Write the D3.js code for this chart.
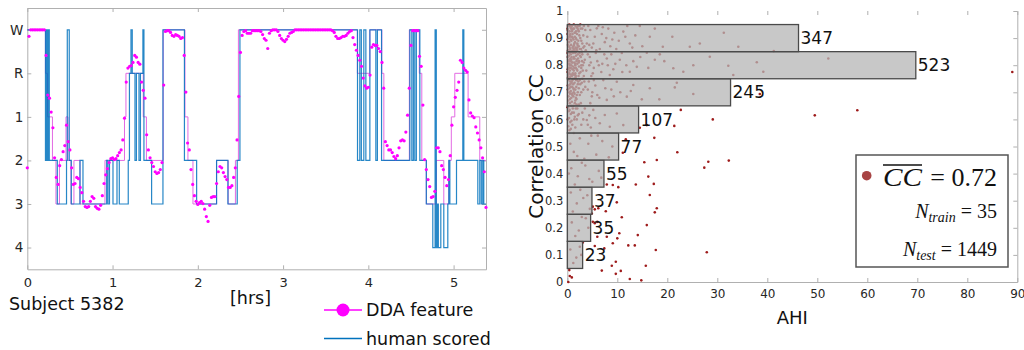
<!DOCTYPE html>
<html>
<head>
<meta charset="utf-8">
<script src="https://cdn.jsdelivr.net/npm/d3@7"></script>
<style>
  body { margin: 0; background: #fff; }
  svg { display: block; }
</style>
</head>
<body>
<svg id="chart" width="1024" height="350"></svg>
<script>
// ---- left panel: hypnogram vs DDA feature ----
const stageNames = ["W", "R", "1", "2", "3", "4"];
const hourTicks = [0, 1, 2, 3, 4, 5];
const recordEnd = 5.38; // hrs
const ddaStep = 0.02;   // hrs between DDA samples

// DDA feature, one value per sample (stage depth, W = 0)
const ddaValues = [
  3.17, 0.15, 0, 0, 0, 0, 0, 0, 0, 0,
  0, 0.59, 1.5, 1.57, 1.89, 2.25, 2.94, 3.39, 3.55, 3.12,
  2.98, 2.8, 2.66, 2.19, 2.57, 2.76, 3.17, 3.55, 3.53, 3.39,
  3.42, 3.62, 3.74, 3.94, 4.06, 4.08, 4.06, 3.94, 3.83, 3.87,
  4.06, 4.1, 4.12, 4.03, 3.81, 3.53, 3.33, 3.19, 3.05, 2.96,
  2.94, 2.98, 2.96, 2.89, 2.82, 2.76, 2.53, 2.03, 1.2, 0.88,
  0.84, 0.82, 0.75, 0.59, 0.63, 0.75, 0.79, 1.2, 1.39, 1.57,
  2.41, 2.76, 2.94, 3.05, 3.14, 3.26, 3.3, 3.28, 3.21, 3.05,
  1.27, 0.04, 0.02, 0.02, 0.06, 0.13, 0.15, 0.11, 0.13, 0.15,
  0.2, 0.18, 0.59, 1.43, 2.6, 2.76, 3.21, 3.55, 3.81, 3.94,
  4.01, 3.97, 3.94, 3.99, 4.12, 4.29, 4.4, 4.03, 3.85, 3.83,
  3.83, 3.53, 3.26, 3.14, 3.17, 3.28, 3.37, 3.44, 3.62, 3.62,
  3.58, 3.39, 3.17, 2.53, 1.53, 0.52, 0.13, 0.04, 0.02, 0.08,
  0.08, 0.08, 0.02, 0.02, 0.02, 0.02, 0.02, 0.04, 0.11, 0.2,
  0.24, 0.43, 0.08, 0.02, 0, 0, 0, 0.04, 0.13, 0.2,
  0.24, 0.27, 0.22, 0.15, 0.08, 0.06, 0.04, 0, 0, 0,
  0, 0, 0, 0, 0, 0, 0, 0, 0, 0,
  0, 0, 0, 0, 0, 0, 0, 0, 0, 0.02,
  0.06, 0.15, 0.2, 0.2, 0.18, 0.15, 0.15, 0.13, 0.08, 0.04,
  0.02, 0.18, 0.34, 0.47, 0.59, 0.7, 0.84, 1.11, 1.29, 1.34,
  1.32, 1.04, 0.4, 0.34, 0.36, 0.36, 0.43, 0.5, 0.75, 1.34,
  2.57, 2.66, 2.76, 2.76, 2.82, 2.91, 2.96, 2.89, 2.71, 2.55,
  2.53, 2.55, 2.35, 1.96, 1.34, 0.36, 0.02, 0.02, 0.02, 0.02,
  0.61, 0.84, 1.73, 2.98, 3.21, 3.44, 3.6, 3.85, 3.83, 3.71,
  2.71, 2.71, 2.8, 3.12, 3.21, 3.39, 3.58, 3.44, 2.89, 2.19,
  1.77, 1.55, 1.39, 1.2, 0.7, 0.75, 0.88, 0.93, 0.97, 1.61,
  1.91, 1.98, 2.02, 2.23, 2.37, 2.53, 2.71, 2.94, 3.26, 4.08
];

// DDA feature rounded to stages: [start hr, stage]
const ddaLevel = [
  [0, 0], [0.213, 1], [0.237, 2], [0.295, 3], [0.336, 4], [0.377, 3], [0.454, 2],
  [0.477, 3], [0.512, 4], [0.547, 3], [0.618, 4], [0.911, 3], [1.14, 2], [1.157, 1],
  [1.36, 2], [1.397, 3], [1.594, 0], [1.849, 2], [1.884, 3], [1.943, 4], [2.22, 3],
  [2.356, 4], [2.441, 3], [2.476, 0], [3.871, 1], [4.018, 0], [4.158, 1], [4.182, 3],
  [4.481, 0], [4.598, 1], [4.627, 3], [4.68, 4], [4.797, 3], [4.885, 4], [4.944, 3],
  [4.973, 2], [5.014, 1], [5.17, 2], [5.307, 3]
];

// human scored hypnogram: [start hr, stage]
const humanScored = [
  [0, 0], [0.213, 3], [0.225, 0], [0.234, 3], [0.246, 0], [0.258, 3], [0.352, 4],
  [0.46, 3], [0.469, 0], [0.492, 3], [0.516, 4], [0.618, 3], [0.653, 4], [0.931, 3],
  [0.946, 4], [0.964, 3], [1.005, 4], [1.052, 3], [1.079, 4], [1.184, 3], [1.198, 1],
  [1.216, 0], [1.231, 1], [1.263, 3], [1.28, 1], [1.31, 3], [1.327, 1], [1.356, 0],
  [1.368, 3], [1.458, 4], [1.591, 0], [1.843, 3], [1.986, 4], [2.22, 3], [2.353, 4],
  [2.462, 3], [2.494, 0], [3.873, 3], [3.9, 0], [3.918, 3], [3.947, 0], [3.971, 3],
  [4.018, 0], [4.088, 3], [4.106, 0], [4.155, 3], [4.487, 0], [4.51, 3], [4.528, 0],
  [4.545, 3], [4.563, 0], [4.604, 3], [4.68, 4], [4.756, 5], [4.783, 0], [4.797, 5],
  [4.809, 4], [4.821, 5], [4.85, 4], [4.885, 5], [4.932, 4], [4.944, 3], [4.956, 4],
  [5.034, 3], [5.108, 0], [5.12, 3], [5.284, 4], [5.307, 3], [5.325, 4], [5.342, 3],
  [5.354, 4]
];

// ---- right panel: correlation vs AHI ----
const ccBins = [0.1, 0.2, 0.3, 0.4, 0.5, 0.6, 0.7, 0.8, 0.9];
const ccCounts = [23, 35, 37, 55, 77, 107, 245, 523, 347];
const binWidth = 0.1;
const ccTicks = [0, 0.1, 0.2, 0.3, 0.4, 0.5, 0.6, 0.7, 0.8, 0.9, 1];
const ahiTicks = [0, 10, 20, 30, 40, 50, 60, 70, 80, 90];
const ccMean = "0.72";
const nTrain = 35;
const nTest = 1449;

// subjects: [AHI, CC]
const subjects = [
  // dense low-AHI group
  [0.1,0.93],[0.4,0.95],[0.7,0.94],[1.0,0.93],[1.3,0.95],[1.6,0.92],[1.9,0.94],[2.2,0.93],[2.6,0.95],
  [0.2,0.90],[0.5,0.91],[0.8,0.89],[1.1,0.90],[1.4,0.88],[1.7,0.90],[2.0,0.88],[2.4,0.91],[2.8,0.89],
  [3.2,0.91],[3.6,0.93],[0.3,0.87],[0.6,0.86],[0.9,0.85],[1.2,0.87],[1.5,0.85],[1.8,0.86],[2.1,0.84],
  [2.5,0.86],[2.9,0.85],[3.4,0.87],[3.9,0.88],[0.1,0.83],[0.4,0.82],[0.7,0.84],[1.0,0.81],[1.3,0.83],
  [1.6,0.80],[1.9,0.82],[2.3,0.81],[2.7,0.83],[3.1,0.80],[3.5,0.82],[4.1,0.84],[0.2,0.79],[0.5,0.78],
  [0.8,0.80],[1.1,0.77],[1.4,0.79],[1.7,0.76],[2.0,0.78],[2.4,0.77],[2.8,0.79],[3.3,0.76],[3.8,0.78],
  [0.3,0.75],[0.6,0.74],[0.9,0.76],[1.2,0.73],[1.5,0.75],[1.8,0.72],[2.2,0.74],[2.6,0.73],[3.0,0.75],
  [3.6,0.72],[0.1,0.71],[0.4,0.70],[0.7,0.72],[1.0,0.69],[1.3,0.71],[1.7,0.68],[2.1,0.70],[2.5,0.69],
  [3.2,0.71],[0.2,0.67],[0.5,0.66],[0.8,0.68],[1.2,0.65],[1.6,0.67],[2.0,0.64],[2.7,0.66],[0.3,0.63],
  [0.7,0.62],[1.1,0.64],[1.5,0.61],[2.3,0.62],[0.1,0.60],[0.6,0.59],[1.0,0.58],[1.9,0.60],[0.4,0.56],
  [1.3,0.55],[0.9,0.945],[1.5,0.905],[0.35,0.885],[2.15,0.945],[1.25,0.855],[0.65,0.815],[2.05,0.875],
  [1.75,0.835],[0.45,0.805],[2.45,0.845],[1.05,0.785],[0.25,0.765],[1.55,0.765],[0.85,0.735],[2.35,0.795],
  [1.95,0.745],[0.55,0.695],[1.45,0.695],[0.15,0.855],[3.0,0.935],[2.95,0.815],[4.0,0.905],[3.7,0.855],
  [4.4,0.80],[3.4,0.74],[0.05,0.775],[0.05,0.915],[0.05,0.645],[0.95,0.625],[1.85,0.655],[0.75,0.905],
  [0.15,0.945],[0.45,0.925],[0.75,0.935],[1.05,0.915],[1.35,0.935],[1.65,0.945],[1.95,0.915],[2.3,0.925],
  [2.7,0.935],[3.3,0.945],[0.05,0.895],[0.35,0.905],[0.65,0.895],[0.95,0.905],[1.25,0.895],[1.55,0.885],
  [1.85,0.895],[2.2,0.89],[2.6,0.9],[3.0,0.88],[0.15,0.875],[0.45,0.865],[0.75,0.875],[1.05,0.865],
  [1.35,0.875],[1.65,0.865],[1.95,0.855],[2.3,0.87],[2.75,0.86],[3.2,0.865],[0.05,0.845],[0.35,0.835],
  [0.6,0.85],[0.85,0.83],[1.15,0.845],[1.45,0.825],[1.75,0.85],[2.15,0.825],[2.55,0.835],[3.0,0.84],
  [0.2,0.815],[0.5,0.8],[0.8,0.82],[1.1,0.795],[1.4,0.81],[1.7,0.79],[2.0,0.805],[2.35,0.815],[2.8,0.8],
  [3.3,0.81],[0.1,0.785],[0.4,0.77],[0.7,0.79],[1.0,0.765],[1.3,0.78],[1.6,0.77],[1.9,0.785],[2.25,0.76],
  [2.65,0.775],[3.1,0.78],[0.25,0.745],[0.55,0.755],[0.85,0.74],[1.15,0.75],[1.45,0.735],[1.75,0.745],
  [2.1,0.73],[2.5,0.745],[2.9,0.735],[0.1,0.725],[0.4,0.715],[0.7,0.705],[1.0,0.72],[1.3,0.7],[1.6,0.71],
  [1.9,0.69],[2.3,0.715],[2.8,0.7],[0.25,0.685],[0.55,0.675],[0.9,0.665],[1.2,0.685],[1.5,0.66],
  [1.85,0.675],[2.3,0.655],[0.15,0.645],[0.45,0.635],[0.8,0.65],[1.3,0.625],[1.7,0.64],[2.1,0.615],
  [0.35,0.605],[0.85,0.595],[1.4,0.6],[0.2,0.575],[0.7,0.565],[1.6,0.57],[0.05,0.935],[0.3,0.925],
  [0.55,0.945],[0.6,0.915],[0.9,0.925],[1.15,0.935],[1.45,0.92],[1.75,0.925],[2.05,0.935],[2.45,0.945],
  [0.25,0.855],[0.5,0.845],[1.0,0.85],[1.3,0.86],[1.6,0.845],[2.0,0.865],[0.3,0.805],[0.6,0.825],
  [0.95,0.81],[1.25,0.825],[1.55,0.805],[1.85,0.815],[0.15,0.755],[0.45,0.79],[0.75,0.765],[1.05,0.745],
  [1.35,0.765],[1.65,0.755],[0.3,0.725],[0.6,0.73],[0.95,0.695],[1.25,0.715],
  // moderate AHI, high CC
  [4.6,0.93],[5.2,0.88],[6.5,0.86],[7.1,0.94],[7.8,0.90],[8.6,0.87],[9.4,0.92],[10.3,0.89],[12.5,0.88],
  [13.6,0.91],[15.0,0.87],[16.5,0.905],[4.9,0.865],[6.2,0.945],[5.9,0.936],[11.2,0.924],[14.5,0.945],
  [19.1,0.868],[24.5,0.868],[26.5,0.88],[31.3,0.92],[34.2,0.868],[41.3,0.852],
  [4.2,0.945],[5.5,0.905],[6.9,0.915],[8.2,0.935],[9.8,0.86],[11.6,0.905],[13.0,0.865],[4.4,0.875],
  [5.8,0.855],[7.5,0.885],[9.0,0.895],[12.0,0.945],[17.5,0.935],[21.0,0.905],
  [4.5,0.83],[5.3,0.79],[6.0,0.815],[6.8,0.775],[7.4,0.84],[8.1,0.80],[9.2,0.785],[10.9,0.845],
  [11.8,0.80],[14.6,0.83],[4.8,0.76],[5.7,0.845],[10.5,0.82],[15.9,0.846],[17.5,0.82],[19.4,0.815],
  [23.2,0.776],[25.2,0.80],[28.5,0.831],[32.2,0.798],[37.9,0.811],[39.2,0.776],[33.2,0.764],[21.2,0.789],
  [13.9,0.794],[8.5,0.764],[12.5,0.776],[52.2,0.825],
  [4.7,0.81],[6.3,0.80],[7.9,0.825],[9.6,0.805],[11.0,0.775],[13.2,0.815],[16.2,0.79],[18.5,0.84],
  [5.1,0.77],[7.0,0.805],[8.8,0.84],
  [4.3,0.74],[5.0,0.70],[5.6,0.725],[6.4,0.68],[7.2,0.745],[8.8,0.71],[10.6,0.70],[4.6,0.66],
  [9.9,0.739],[13.2,0.727],[16.5,0.715],[21.5,0.718],[25.2,0.694],[18.4,0.674],[11.9,0.684],[7.9,0.672],
  [14.9,0.674],[21.9,0.735],[38.5,0.694],
  [4.1,0.71],[5.3,0.745],[6.0,0.69],[7.6,0.715],[9.3,0.685],[12.7,0.705],[4.9,0.685],
  [3.5,0.64],[4.4,0.615],[2.8,0.58],[4.7,0.57],[5.2,0.635],[7.5,0.616],[9.9,0.622],[11.2,0.579],
  [8.5,0.573],[3.9,0.598],[6.5,0.586],[3.2,0.60],[4.1,0.58],[5.6,0.605],[3.0,0.625],
  // lower CC
  [2.5,0.53],[4.2,0.51],[5.8,0.47],[7.0,0.52],[8.3,0.46],[1.3,0.48],[3.4,0.455],[6.1,0.54],[0.6,0.51],
  [2.0,0.465],[9.0,0.5],[4.8,0.54],
  [0.8,0.42],[2.1,0.39],[3.6,0.43],[5.0,0.37],[6.3,0.41],[1.5,0.36],[4.4,0.38],[0.3,0.40],[2.9,0.44],
  [6.8,0.385],
  [0.7,0.33],[1.9,0.29],[3.2,0.31],[4.5,0.27],[2.6,0.34],[1.1,0.26],[4.0,0.32],
  [0.9,0.22],[2.3,0.19],[3.7,0.235],[1.6,0.17],[4.2,0.20],[2.9,0.24],
  [0.6,0.12],[1.8,0.09],[2.5,0.13],[1.2,0.07],[2.8,0.10],
  // scattered
  [22.7,0.635],[29.1,0.60],[21.4,0.576],[17.4,0.532],[15.9,0.579],[14.5,0.569],[11.7,0.527],[11.1,0.477],
  [22.0,0.479],[15.4,0.442],[17.9,0.45],[27.4,0.422],[28.2,0.444],[32.3,0.448],[16.2,0.389],[89.0,0.775],
  [49.5,0.615],[58.0,0.634],[7.9,0.36],[9.1,0.358],[10.2,0.35],[13.7,0.36],[17.3,0.362],[16.5,0.321],
  [17.9,0.272],[17.5,0.257],[9.9,0.294],[7.7,0.261],[6.2,0.272],[5.5,0.268],[5.1,0.278],[4.9,0.253],
  [10.9,0.239],[15.9,0.21],[10.4,0.18],[10.0,0.161],[14.1,0.173],[9.1,0.143],[7.9,0.167],[6.0,0.167],
  [5.5,0.217],[5.1,0.222],[6.0,0.222],[12.2,0.135],[13.5,0.135],[17.7,0.118],[27.9,0.11],[7.4,0.124],
  [5.5,0.133],[3.1,0.146],[9.7,0.075],[8.9,0.06],[10.7,0.041],[9.7,0.03],[6.9,0.042],[15.7,0.06],
  [12.5,0.011],[14.8,0.006],[0.4,0.044],[0.9,0.017],[0.5,0.022],[0.2,0.0]
];

const svg = d3.select("#chart");
const FONT = "DejaVu Sans";
const axisGray = "#b0b0b0";

function styleAxis(g, size) {
  g.attr("font-family", FONT).attr("font-size", size);
  g.selectAll("path, line").attr("stroke", axisGray);
  g.selectAll("text").attr("fill", "#262626");
}

// ===== left panel =====
const xL = d3.scaleLinear().domain([0, recordEnd]).range([27.3, 486]);
const yL = d3.scaleLinear().domain([-0.5, 5.5]).range([8, 269.3]);
const stageIdx = d3.range(stageNames.length);

svg.append("g")
  .attr("transform", `translate(0,${yL(5.5)})`)
  .call(d3.axisBottom(xL).tickValues(hourTicks).tickSize(-4).tickSizeOuter(0).tickPadding(8).tickFormat(d3.format("d")))
  .call(styleAxis, 13);
svg.append("g")
  .attr("transform", `translate(0,${yL(-0.5)})`)
  .call(d3.axisTop(xL).tickValues(hourTicks).tickSize(-4).tickSizeOuter(0).tickFormat(""))
  .call(styleAxis, 13);
svg.append("g")
  .attr("transform", `translate(${xL(0)},0)`)
  .call(d3.axisLeft(yL).tickValues(stageIdx).tickSize(-4).tickSizeOuter(0).tickPadding(4).tickFormat(i => stageNames[i]))
  .call(styleAxis, 13.5);
svg.append("g")
  .attr("transform", `translate(${xL(recordEnd)},0)`)
  .call(d3.axisRight(yL).tickValues(stageIdx).tickSize(-4).tickSizeOuter(0).tickFormat(""))
  .call(styleAxis, 13);

const stepLine = d3.line()
  .x(d => xL(d[0]))
  .y(d => yL(d[1]))
  .curve(d3.curveStepAfter);
const untilEnd = arr => arr.concat([[recordEnd, arr[arr.length - 1][1]]]);

svg.append("path")
  .datum(untilEnd(ddaLevel))
  .attr("d", stepLine)
  .attr("fill", "none")
  .attr("stroke", "#e36ae3")
  .attr("stroke-width", 1);

svg.append("path")
  .datum(untilEnd(humanScored))
  .attr("d", stepLine)
  .attr("fill", "none")
  .attr("stroke", "#0072bd")
  .attr("stroke-opacity", 0.85)
  .attr("stroke-width", 1.2);

svg.append("g").selectAll("circle")
  .data(ddaValues)
  .join("circle")
  .attr("cx", (d, i) => xL(i * ddaStep))
  .attr("cy", d => yL(d))
  .attr("r", 1.6)
  .attr("fill", "#ff00ff");

// labels + legend
svg.append("text").attr("x", 9).attr("y", 310)
  .attr("font-family", FONT).attr("font-size", 17.5).attr("fill", "#111")
  .text("Subject 5382");
svg.append("text").attr("x", 230).attr("y", 304)
  .attr("font-family", FONT).attr("font-size", 17.5).attr("fill", "#111")
  .text("[hrs]");

const legL = svg.append("g").attr("font-family", FONT).attr("font-size", 17.5);
legL.append("line").attr("x1", 324).attr("x2", 362).attr("y1", 310).attr("y2", 310)
  .attr("stroke", "#ff00ff").attr("stroke-width", 1.5);
legL.append("circle").attr("cx", 343).attr("cy", 310).attr("r", 6.5).attr("fill", "#ff00ff");
legL.append("text").attr("x", 366).attr("y", 316).attr("fill", "#111").text("DDA feature");
legL.append("line").attr("x1", 324).attr("x2", 362).attr("y1", 338.5).attr("y2", 338.5)
  .attr("stroke", "#0072bd").attr("stroke-width", 1.5);
legL.append("text").attr("x", 366).attr("y", 345).attr("fill", "#111").text("human scored");

// ===== right panel =====
const xR = d3.scaleLinear().domain([0, 90]).range([567.3, 1017.3]);
const yR = d3.scaleLinear().domain([0, 1]).range([282, 11]);
// histogram counts drawn in AHI units along the x axis
const barLen = d3.scaleLinear().domain([0, 523]).range([0, 69.7]);

svg.append("g")
  .attr("transform", `translate(0,${yR(0)})`)
  .call(d3.axisBottom(xR).tickValues(ahiTicks).tickSize(-4).tickSizeOuter(0).tickPadding(7).tickFormat(d3.format("d")))
  .call(styleAxis, 12);
svg.append("g")
  .attr("transform", `translate(0,${yR(1)})`)
  .call(d3.axisTop(xR).tickValues(ahiTicks).tickSize(-4).tickSizeOuter(0).tickFormat(""))
  .call(styleAxis, 12)
  .call(g => g.select(".domain").remove());
svg.append("g")
  .attr("transform", `translate(${xR(0)},0)`)
  .call(d3.axisLeft(yR).tickValues(ccTicks).tickSize(0).tickSizeOuter(0).tickPadding(4).tickFormat(d3.format("~g")))
  .call(styleAxis, 11.5);
svg.append("g")
  .attr("transform", `translate(${xR(90)},0)`)
  .call(d3.axisRight(yR).tickValues(ccTicks).tickSize(-4).tickSizeOuter(0).tickFormat(""))
  .call(styleAxis, 12);

svg.append("g").selectAll("circle")
  .data(subjects)
  .join("circle")
  .attr("cx", d => xR(d[0]))
  .attr("cy", d => yR(d[1]))
  .attr("r", 1.3)
  .attr("fill", "#9e1b1b");

// bars sit over the dots, so dots inside them show up pale
svg.append("g").selectAll("rect")
  .data(ccBins)
  .join("rect")
  .attr("x", xR(0))
  .attr("y", d => yR(d + binWidth / 2))
  .attr("width", (d, i) => xR(barLen(ccCounts[i])) - xR(0))
  .attr("height", yR(0) - yR(binWidth))
  .attr("fill", "#b6b6b6")
  .attr("fill-opacity", 0.75)
  .attr("stroke", "#4a4a4a")
  .attr("stroke-width", 1.3);

svg.append("g").selectAll("text")
  .data(ccBins)
  .join("text")
  .attr("x", (d, i) => xR(barLen(ccCounts[i])) + 2)
  .attr("y", d => yR(d))
  .attr("dy", "0.36em")
  .attr("font-family", FONT)
  .attr("font-size", 17)
  .attr("fill", "#111")
  .text((d, i) => ccCounts[i]);

svg.append("text")
  .attr("transform", `translate(543,${(yR(0) + yR(1)) / 2}) rotate(-90)`)
  .attr("text-anchor", "middle")
  .attr("font-family", FONT).attr("font-size", 20).attr("fill", "#111")
  .text("Correlation CC");
svg.append("text")
  .attr("x", (xR(0) + xR(90)) / 2).attr("y", 324)
  .attr("text-anchor", "middle")
  .attr("font-family", FONT).attr("font-size", 18).attr("fill", "#111")
  .text("AHI");

// legend box
const legR = svg.append("g").attr("font-family", "Liberation Serif").attr("fill", "#111");
legR.append("rect").attr("x", 856).attr("y", 155).attr("width", 152).attr("height", 112)
  .attr("fill", "#fff").attr("stroke", "#555").attr("stroke-width", 1.5);
legR.append("circle").attr("cx", 866.7).attr("cy", 175.7).attr("r", 4.8).attr("fill", "#a84444");
legR.append("text").attr("x", 883).attr("y", 186)
  .attr("font-size", 26).attr("font-style", "italic")
  .attr("textLength", 39).attr("lengthAdjust", "spacingAndGlyphs")
  .text("CC");
legR.append("line").attr("x1", 883).attr("x2", 922).attr("y1", 165).attr("y2", 165)
  .attr("stroke", "#111").attr("stroke-width", 1.3);
legR.append("text").attr("x", 997).attr("y", 186).attr("text-anchor", "end")
  .attr("font-size", 26).text(`= ${ccMean}`);

function nLine(y, sub, value) {
  const t = legR.append("text").attr("x", 997).attr("y", y).attr("text-anchor", "end").attr("font-size", 20);
  t.append("tspan").attr("font-style", "italic").text("N");
  t.append("tspan").attr("font-style", "italic").attr("font-size", 14).attr("dy", 4).text(sub);
  t.append("tspan").attr("dy", -4).text(` = ${value}`);
}
nLine(218, "train", nTrain);
nLine(256, "test", nTest);
</script>
</body>
</html>
